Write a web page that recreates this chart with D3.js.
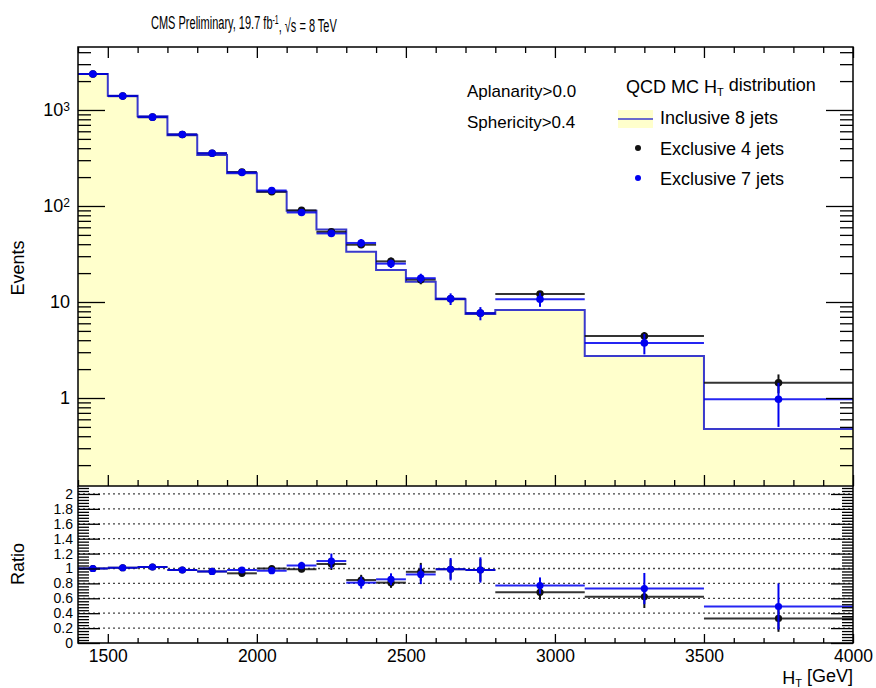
<!DOCTYPE html>
<html><head><meta charset="utf-8">
<script src="https://cdn.jsdelivr.net/npm/d3@7"></script>
<style>
body{margin:0;background:#fff;}
text{font-family:"Liberation Sans",Arial,Helvetica,sans-serif;fill:#000;}
</style></head>
<body><svg id="c" width="876" height="688"></svg>
<script>
// ---- data ----
const binEdges = [1400,1500,1600,1700,1800,1900,2000,2100,2200,2300,2400,2500,2600,2700,2800,3100,3500,4000];
const incl8 = [2371,1409,859,545,340,219,141,89,57,33.4,21.5,16.3,10.7,7.5,8.26,2.74,0.475];
const excl4 = [2371,1395,842,556,354,226,141,90,53.8,39.5,26.5,17.1,10.8,7.65,12.1,4.42,1.44];
const excl7 = [2371,1395,842,556,354,223,145,85.6,51.8,41.2,25.1,17.7,10.8,7.65,10.7,3.75,0.97];
const excl4Err = [20,15,10,8,6,5,3.5,2.5,2,3,2.5,1.8,0.9,0.6,0.8,0.45,0.32];
const excl7Err = [25,18,12,9,7,6,4,3,3,4,2.5,2,1.5,1.2,1.8,0.9,0.47];
const ratio4 = [1.0,1.01,1.02,0.98,0.96,0.935,1.0,0.99,1.06,0.845,0.81,0.955,0.99,0.98,0.68,0.62,0.33];
const ratio7 = [1.0,1.01,1.02,0.98,0.96,0.98,0.97,1.04,1.10,0.81,0.855,0.92,0.99,0.98,0.77,0.73,0.49];
const ratio4Err = [0.01,0.01,0.02,0.02,0.02,0.03,0.03,0.04,0.08,0.07,0.07,0.12,0.13,0.15,0.10,0.15,0.18];
const ratio7Err = [0.02,0.02,0.02,0.02,0.03,0.03,0.04,0.05,0.10,0.08,0.08,0.13,0.15,0.17,0.11,0.21,0.31];
const xTicks = [1500,2000,2500,3000,3500,4000];
const yLogTicks = [1,10,100,1000];
const ratioTicks = [0,0.2,0.4,0.6,0.8,1,1.2,1.4,1.6,1.8,2];

// ---- layout ----
const L=78,R=853,T=47,B=486,RB=643;
const svg=d3.select("#c");
const x=d3.scaleLinear().domain([1400,4000]).range([L,R]);
const y=d3.scaleLog().domain([0.1212,4529]).range([B,T]);
const yr=d3.scaleLinear().domain([0,2.107]).range([RB,B]);
const HIST="#3a3acc", FILL="#ffffcc", BLUE="#0000f0", BLK="#111";

svg.append("clipPath").attr("id","cu").append("rect").attr("x",L).attr("y",T).attr("width",R-L).attr("height",B-T);
svg.append("clipPath").attr("id","cr").append("rect").attr("x",L).attr("y",B).attr("width",R-L).attr("height",RB-B);

const bins = incl8.map((v,i)=>({lo:binEdges[i],hi:binEdges[i+1],c:(binEdges[i]+binEdges[i+1])/2,
  h:v,e4:excl4[i],e7:excl7[i],e4e:excl4Err[i],e7e:excl7Err[i],r4:ratio4[i],r7:ratio7[i],r4e:ratio4Err[i],r7e:ratio7Err[i]}));
const stepPts = bins.map(b=>[b.lo,b.h]).concat([[4000,incl8[incl8.length-1]]]);

const gu=svg.append("g").attr("clip-path","url(#cu)");
gu.append("path").datum(stepPts)
  .attr("d",d3.area().curve(d3.curveStepAfter).x(d=>x(d[0])).y0(B).y1(d=>y(d[1])))
  .attr("fill",FILL);
gu.append("path").datum(stepPts)
  .attr("d",d3.line().curve(d3.curveStepAfter).x(d=>x(d[0])).y(d=>y(d[1])))
  .attr("fill","none").attr("stroke",HIST).attr("stroke-width",2);

function drawPoints(g, ys, key, errKey, col, r){
  const gg=g.append("g");
  bins.forEach(b=>{
    const v=b[key], e=b[errKey];
    gg.append("line").attr("x1",x(b.lo)).attr("x2",x(b.hi)).attr("y1",ys(v)).attr("y2",ys(v))
      .attr("stroke",col).attr("stroke-width",2).attr("opacity",0.85);
    gg.append("line").attr("x1",x(b.c)).attr("x2",x(b.c)).attr("y1",ys(Math.max(v-e,1e-3))).attr("y2",ys(v+e))
      .attr("stroke",col).attr("stroke-width",2);
    gg.append("circle").attr("cx",x(b.c)).attr("cy",ys(v)).attr("r",r).attr("fill",col);
  });
}
drawPoints(gu,y,"e4","e4e",BLK,3.8);
drawPoints(gu,y,"e7","e7e",BLUE,3.8);

// ratio panel
const gr=svg.append("g").attr("clip-path","url(#cr)");
gr.selectAll("line.grid").data(ratioTicks.filter(t=>t>0)).join("line").attr("class","grid")
  .attr("x1",L).attr("x2",R).attr("y1",d=>yr(d)).attr("y2",d=>yr(d))
  .attr("stroke","#444").attr("stroke-width",1.3).attr("stroke-dasharray","2,3");
drawPoints(gr,yr,"r4","r4e",BLK,3.6);
drawPoints(gr,yr,"r7","r7e",BLUE,3.6);

// ---- axes ----
function clean(g){g.select(".domain").remove(); g.selectAll("line").attr("stroke","#000").attr("stroke-width",1.3);}
const minorX=d3.range(1400,4001,100).filter(v=>v%500!==0);
const minorLog=[];
[0.1,1,10,100,1000].forEach(d=>{for(let k=2;k<=9;k++){const v=d*k; if(v>0.1212&&v<4529) minorLog.push(v);}});
const minorR=d3.range(0,2.101,0.04).map(v=>+v.toFixed(2)).filter(v=>Math.abs(v*5-Math.round(v*5))>1e-6);

// upper x axes (top & bottom), no labels
[[d3.axisTop,T],[d3.axisBottom,B]].forEach(([ax,yy])=>{
  svg.append("g").attr("transform",`translate(0,${yy})`).call(ax(x).tickValues(xTicks).tickSize(-11).tickFormat("")).call(clean);
  svg.append("g").attr("transform",`translate(0,${yy})`).call(ax(x).tickValues(minorX).tickSize(-6).tickFormat("")).call(clean);
});
// upper y axes
const yl=svg.append("g").attr("transform",`translate(${L},0)`)
  .call(d3.axisLeft(y).tickValues(yLogTicks).tickSize(-27).tickPadding(8).tickFormat(d=>d>=100?"10":String(d))).call(clean);
yl.selectAll("text").attr("font-size",18).each(function(d){
  if(d>=100){ d3.select(this).append("tspan").attr("dy","-0.45em").attr("font-size",12).text(Math.round(Math.log10(d))); }
});
svg.append("g").attr("transform",`translate(${L},0)`).call(d3.axisLeft(y).tickValues(minorLog).tickSize(-13).tickFormat("")).call(clean);
svg.append("g").attr("transform",`translate(${R},0)`).call(d3.axisRight(y).tickValues(yLogTicks).tickSize(-27).tickFormat("")).call(clean);
svg.append("g").attr("transform",`translate(${R},0)`).call(d3.axisRight(y).tickValues(minorLog).tickSize(-13).tickFormat("")).call(clean);

// ratio axes
const xb=svg.append("g").attr("transform",`translate(0,${RB})`)
  .call(d3.axisBottom(x).tickValues(xTicks).tickSize(-9).tickPadding(7).tickFormat(d3.format("d"))).call(clean);
xb.selectAll("text").attr("font-size",17.5);
svg.append("g").attr("transform",`translate(0,${RB})`).call(d3.axisBottom(x).tickValues(minorX).tickSize(-5).tickFormat("")).call(clean);
const rl=svg.append("g").attr("transform",`translate(${L},0)`)
  .call(d3.axisLeft(yr).tickValues(ratioTicks).tickSize(-22).tickPadding(5).tickFormat(d=>String(+d.toFixed(1)))).call(clean);
rl.selectAll("text").attr("font-size",14);
svg.append("g").attr("transform",`translate(${L},0)`).call(d3.axisLeft(yr).tickValues(minorR).tickSize(-11).tickFormat("")).call(clean);
svg.append("g").attr("transform",`translate(${R},0)`).call(d3.axisRight(yr).tickValues(ratioTicks).tickSize(-22).tickFormat("")).call(clean);
svg.append("g").attr("transform",`translate(${R},0)`).call(d3.axisRight(yr).tickValues(minorR).tickSize(-11).tickFormat("")).call(clean);

// frames
svg.append("rect").attr("x",L).attr("y",T).attr("width",R-L).attr("height",B-T).attr("fill","none").attr("stroke","#000").attr("stroke-width",1.5);
svg.append("path").attr("d",`M${L},${B}V${RB}H${R}V${B}`).attr("fill","none").attr("stroke","#000").attr("stroke-width",1.5);

// axis titles
svg.append("text").attr("transform","translate(24,268) rotate(-90)").attr("text-anchor","middle").attr("font-size",18).text("Events");
svg.append("text").attr("transform","translate(24,564) rotate(-90)").attr("text-anchor","middle").attr("font-size",18).text("Ratio");
const xt=svg.append("text").attr("x",R).attr("y",684).attr("text-anchor","end").attr("font-size",18);
xt.append("tspan").text("H");
xt.append("tspan").attr("dy","0.3em").attr("font-size",11).text("T");
xt.append("tspan").attr("dy","-0.3em").text(" [GeV]");

// title
const tt=svg.append("text").attr("font-size",19);
tt.append("tspan").text("CMS Preliminary, 19.7 fb");
tt.append("tspan").attr("dy","-0.45em").attr("font-size",12).text("-1");
tt.append("tspan").attr("dy","0.45em").text(", √s = 8 TeV");
const tl=tt.node().getComputedTextLength();
tt.attr("transform",`translate(151,29) scale(${186/tl},1)`);

// cut labels
svg.append("text").attr("x",467).attr("y",97).attr("font-size",17).text("Aplanarity>0.0");
svg.append("text").attr("x",467).attr("y",128).attr("font-size",17).text("Sphericity>0.4");

// legend
const lg=svg.append("g");
const lt=lg.append("text").attr("x",626).attr("y",93).attr("font-size",18);
lt.append("tspan").text("QCD MC H");
lt.append("tspan").attr("dy","0.3em").attr("font-size",11).text("T");
lt.append("tspan").attr("dy","-0.3em").text(" distribution");
lg.append("rect").attr("x",618).attr("y",110).attr("width",35).attr("height",18).attr("fill",FILL);
lg.append("line").attr("x1",618).attr("x2",653).attr("y1",119).attr("y2",119).attr("stroke",HIST).attr("stroke-width",1.5);
lg.append("text").attr("x",660).attr("y",124).attr("font-size",18).text("Inclusive 8 jets");
lg.append("circle").attr("cx",638).attr("cy",148).attr("r",3).attr("fill",BLK);
lg.append("text").attr("x",660).attr("y",155).attr("font-size",18).text("Exclusive 4 jets");
lg.append("circle").attr("cx",638).attr("cy",178).attr("r",3).attr("fill",BLUE);
lg.append("text").attr("x",660).attr("y",185).attr("font-size",18).text("Exclusive 7 jets");
</script></body></html>
